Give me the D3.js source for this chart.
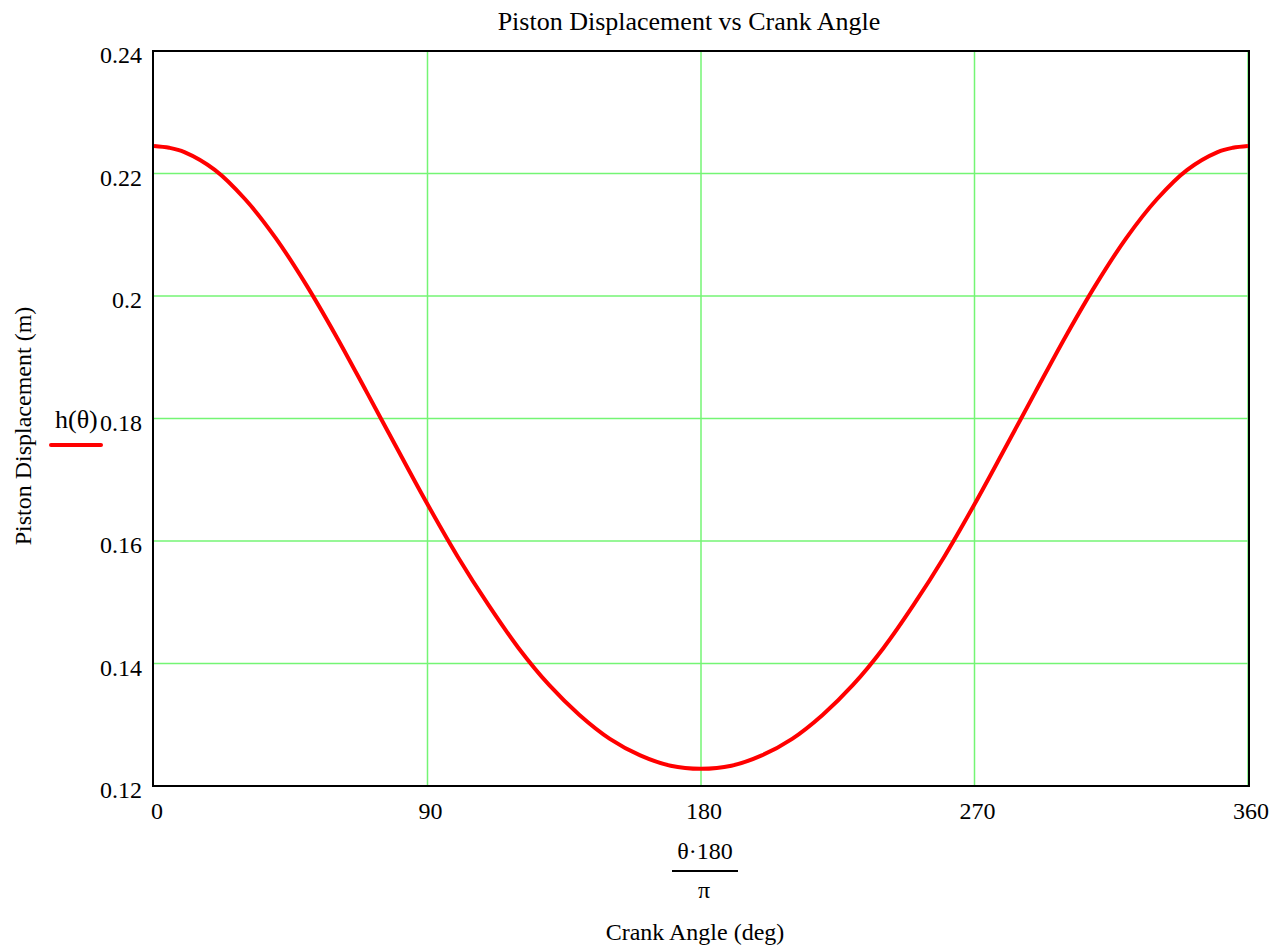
<!DOCTYPE html>
<html>
<head>
<meta charset="utf-8">
<script src="https://cdn.jsdelivr.net/npm/d3@7"></script>
<style>
  body { margin: 0; background: #fff; }
  text { font-family: "Liberation Serif", "Times New Roman", serif; fill: #000; }
</style>
</head>
<body>
<svg width="1275" height="949"></svg>
<script>
// crank angle (deg)
const angles = [0, 5, 10, 20, 30, 40, 50, 60, 70, 80, 90, 100, 110, 120, 130, 140, 150, 160, 170, 180,
    190, 200, 210, 220, 230, 240, 250, 260, 270, 280, 290, 300, 310, 320, 330, 340, 350, 355, 360];
// piston displacement h(theta) in m
const displacement = [0.2245, 0.2242, 0.2235, 0.2206, 0.2158, 0.2095, 0.2019, 0.1934, 0.1843, 0.1751, 0.1660,
    0.1574, 0.1496, 0.1425, 0.1365, 0.1316, 0.1277, 0.1250, 0.1233, 0.1228,
    0.1233, 0.1250, 0.1277, 0.1316, 0.1365, 0.1425, 0.1496, 0.1574, 0.1660,
    0.1751, 0.1843, 0.1934, 0.2019, 0.2095, 0.2158, 0.2206, 0.2235, 0.2242, 0.2245];
const xTicks = [0, 90, 180, 270, 360];
const yTicks = [0.12, 0.14, 0.16, 0.18, 0.2, 0.22, 0.24];
const yTickLabels = ['0.12', '0.14', '0.16', '0.18', '0.2', '0.22', '0.24'];

const svg = d3.select('svg');
const pLeft = 154, pRight = 1249, pTop = 51, pBottom = 786;

const x = d3.scaleLinear().domain([0, 360]).range([pLeft, pRight - 1]);
const y = d3.scaleLinear().domain([0.12, 0.24]).range([pBottom, pTop]);

// grid
svg.append('g').selectAll('line')
    .data(xTicks.slice(1))
    .join('line')
    .attr('x1', d => x(d)).attr('x2', d => x(d))
    .attr('y1', pTop).attr('y2', pBottom)
    .attr('stroke', '#74f574').attr('stroke-width', 1.5);

svg.append('g').selectAll('line')
    .data(yTicks.slice(1, -1))
    .join('line')
    .attr('x1', pLeft).attr('x2', pRight)
    .attr('y1', d => y(d)).attr('y2', d => y(d))
    .attr('stroke', '#74f574').attr('stroke-width', 1.5);

// curve
const pts = angles.map((a, i) => [a, displacement[i]]);
svg.append('path')
    .datum(pts)
    .attr('fill', 'none')
    .attr('stroke', '#ff0000')
    .attr('stroke-width', 4)
    .attr('d', d3.line().x(d => x(d[0])).y(d => y(d[1])).curve(d3.curveCatmullRom));

// frame
svg.append('rect')
    .attr('x', pLeft - 1).attr('y', pTop)
    .attr('width', pRight - pLeft + 1).attr('height', pBottom - pTop)
    .attr('fill', 'none').attr('stroke', '#000').attr('stroke-width', 2);

// tick labels
svg.append('g').selectAll('text')
    .data(yTicks)
    .join('text')
    .attr('x', 142).attr('y', d => y(d) + 12)
    .attr('text-anchor', 'end')
    .style('font-size', '24px')
    .text((d, i) => yTickLabels[i]);

svg.append('g').selectAll('text')
    .data(xTicks)
    .join('text')
    .attr('x', d => x(d) + 3).attr('y', 819)
    .attr('text-anchor', 'middle')
    .style('font-size', '24px')
    .text(d => d);

// title
svg.append('text')
    .attr('x', 689).attr('y', 30)
    .attr('text-anchor', 'middle')
    .style('font-size', '26px')
    .text('Piston Displacement vs Crank Angle');

// y title
svg.append('text')
    .attr('transform', 'translate(31,426) rotate(-90)')
    .attr('text-anchor', 'middle')
    .style('font-size', '24px')
    .text('Piston Displacement (m)');

// legend
svg.append('text')
    .attr('x', 55).attr('y', 428)
    .style('font-size', '26px')
    .text('h(θ)');
svg.append('line')
    .attr('x1', 51).attr('x2', 101)
    .attr('y1', 445).attr('y2', 445)
    .attr('stroke', '#ff0000').attr('stroke-width', 4)
    .attr('stroke-linecap', 'round');

// x title (fraction)
svg.append('text')
    .attr('x', 705).attr('y', 859)
    .attr('text-anchor', 'middle')
    .style('font-size', '24px')
    .text('θ·180');
svg.append('line')
    .attr('x1', 672).attr('x2', 738)
    .attr('y1', 871).attr('y2', 871)
    .attr('stroke', '#000').attr('stroke-width', 2);
svg.append('text')
    .attr('x', 704).attr('y', 898)
    .attr('text-anchor', 'middle')
    .style('font-size', '24px')
    .text('π');
svg.append('text')
    .attr('x', 695).attr('y', 940)
    .attr('text-anchor', 'middle')
    .style('font-size', '24px')
    .text('Crank Angle (deg)');
</script>
</body>
</html>
